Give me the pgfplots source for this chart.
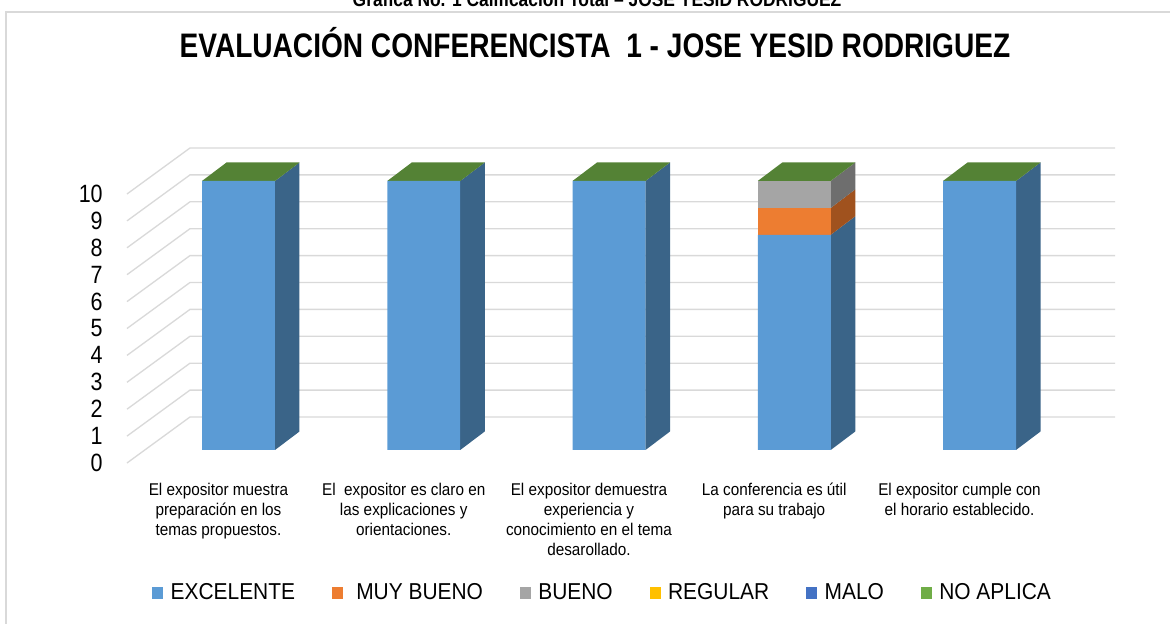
\documentclass[border=0pt]{standalone}
\usepackage{fontspec}
\setmainfont{Liberation Sans}
\newfontfamily\narrowfont[FakeStretch=0.87]{Liberation Sans}
\newfontfamily\titlefont[FakeStretch=0.826]{Liberation Sans}
\newfontfamily\tickfont[FakeStretch=0.86]{Liberation Sans}
\newfontfamily\catfont[FakeStretch=0.9]{Liberation Sans}
\newfontfamily\legfont[FakeStretch=0.91]{Liberation Sans}
\usepackage{pgfplots}
\pgfplotsset{compat=1.18}
\usepackage{pgfplotstable}
\definecolor{cExc}{HTML}{5B9BD5}
\definecolor{cExcS}{HTML}{3A6488}
\definecolor{cMB}{HTML}{ED7D31}
\definecolor{cMBS}{HTML}{A0521E}
\definecolor{cB}{HTML}{A5A5A5}
\definecolor{cBS}{HTML}{6E6E6E}
\definecolor{cReg}{HTML}{FFC000}
\definecolor{cMalo}{HTML}{4472C4}
\definecolor{cNA}{HTML}{70AD47}
\definecolor{cNAT}{HTML}{548235}
\definecolor{gridc}{HTML}{D9D9D9}

\pgfplotstableread{
x EXC MB B REG MALO NA
0 10 0 0 0 0 0
1 10 0 0 0 0 0
2 10 0 0 0 0 0
3 8 1 1 0 0 0
4 10 0 0 0 0 0
}\datatable

\pgfplotsset{base/.style={at={(0,0)}, anchor=south west, scale only axis,
  width=702pt, height=374.4pt,
  xmin=-1.2874, xmax=5.0283, ymin=-6.4684, ymax=16.7286,
  clip=false, axis line style={draw=none}, tick style={draw=none},
  major tick length=0pt}}

\begin{document}
\begin{tikzpicture}
% ---------- background: 3D walls, gridlines, side and top faces ----------
\begin{axis}[base, xtick=\empty, ytick=\empty]
\draw[gridc, line width=1pt] (rel axis cs:0.00513,-0.05) -- (rel axis cs:0.00513,0.9808) -- (rel axis cs:1.05,0.9808);
\addplot[gridc, line width=0.8pt] coordinates {(-0.6019,-0.4833) (-0.2618,1.2268) (4.7314,1.2268)};
\addplot[gridc, line width=0.8pt] coordinates {(-0.6019,0.5167) (-0.2618,2.2268) (4.7314,2.2268)};
\addplot[gridc, line width=0.8pt] coordinates {(-0.6019,1.5167) (-0.2618,3.2268) (4.7314,3.2268)};
\addplot[gridc, line width=0.8pt] coordinates {(-0.6019,2.5167) (-0.2618,4.2268) (4.7314,4.2268)};
\addplot[gridc, line width=0.8pt] coordinates {(-0.6019,3.5167) (-0.2618,5.2268) (4.7314,5.2268)};
\addplot[gridc, line width=0.8pt] coordinates {(-0.6019,4.5167) (-0.2618,6.2268) (4.7314,6.2268)};
\addplot[gridc, line width=0.8pt] coordinates {(-0.6019,5.5167) (-0.2618,7.2268) (4.7314,7.2268)};
\addplot[gridc, line width=0.8pt] coordinates {(-0.6019,6.5167) (-0.2618,8.2268) (4.7314,8.2268)};
\addplot[gridc, line width=0.8pt] coordinates {(-0.6019,7.5167) (-0.2618,9.2268) (4.7314,9.2268)};
\addplot[gridc, line width=0.8pt] coordinates {(-0.6019,8.5167) (-0.2618,10.2268) (4.7314,10.2268)};
\addplot[gridc, line width=0.8pt] coordinates {(-0.6019,9.5167) (-0.2618,11.2268) (4.7314,11.2268)};
% side faces
\addplot[fill=cExcS, draw=none] coordinates {(0.197,0) (0.3293,0.688) (0.3293,10.688) (0.197,10)};
\addplot[fill=cExcS, draw=none] coordinates {(1.197,0) (1.3293,0.688) (1.3293,10.688) (1.197,10)};
\addplot[fill=cExcS, draw=none] coordinates {(2.197,0) (2.3293,0.688) (2.3293,10.688) (2.197,10)};
\addplot[fill=cExcS, draw=none] coordinates {(3.197,0) (3.3293,0.688) (3.3293,8.688) (3.197,8)};
\addplot[fill=cMBS, draw=none] coordinates {(3.197,8) (3.3293,8.688) (3.3293,9.688) (3.197,9)};
\addplot[fill=cBS, draw=none] coordinates {(3.197,9) (3.3293,9.688) (3.3293,10.688) (3.197,10)};
\addplot[fill=cExcS, draw=none] coordinates {(4.197,0) (4.3293,0.688) (4.3293,10.688) (4.197,10)};
% top faces
\addplot[fill=cNAT, draw=none] coordinates {(-0.197,10) (-0.0647,10.688) (0.3293,10.688) (0.197,10)};
\addplot[fill=cNAT, draw=none] coordinates {(0.803,10) (0.9353,10.688) (1.3293,10.688) (1.197,10)};
\addplot[fill=cNAT, draw=none] coordinates {(1.803,10) (1.9353,10.688) (2.3293,10.688) (2.197,10)};
\addplot[fill=cNAT, draw=none] coordinates {(2.803,10) (2.9353,10.688) (3.3293,10.688) (3.197,10)};
\addplot[fill=cNAT, draw=none] coordinates {(3.803,10) (3.9353,10.688) (4.3293,10.688) (4.197,10)};
\node[anchor=base, inner sep=0pt, font=\narrowfont\bfseries\fontsize{12pt}{14pt}\selectfont]
  at (rel axis cs:0.5103,0.98878) {Gráfica No. 1 Calificación Total – JOSE YESID RODRIGUEZ};
\end{axis}
% ---------- foreground: stacked front faces ----------
\begin{axis}[base, ybar stacked, bar width=0.394,
  /pgf/number format/assume math mode=true,
  title={EVALUACIÓN CONFERENCISTA\ \ 1 - JOSE YESID RODRIGUEZ},
  title style={at={(rel axis cs:0.5085,0.8926)}, anchor=base, inner sep=0pt,
    font=\titlefont\bfseries\fontsize{20.4pt}{24pt}\selectfont},
  ytick={-0.4833,0.5167,1.5167,2.5167,3.5167,4.5167,5.5167,6.5167,7.5167,8.5167,9.5167},
  yticklabels={0,1,2,3,4,5,6,7,8,9,10},
  yticklabel style={anchor=east, inner sep=0pt, xshift=61.8pt,
    font=\tickfont\fontsize{15pt}{18pt}\selectfont},
  xtick={-0.108,0.892,1.892,2.892,3.892},
  xticklabels={{El expositor muestra\\preparación en los\\temas propuestos.},
    {El\ \ expositor es claro en\\las explicaciones y\\orientaciones.},
    {El expositor demuestra\\experiencia y\\conocimiento en el tema\\desarollado.},
    {La conferencia es útil\\para su trabajo},
    {El expositor cumple con\\el horario establecido.}},
  xticklabel style={align=center, anchor=north, inner sep=0pt, yshift=84.6pt,
    font=\catfont\fontsize{10.2pt}{12pt}\selectfont},
  legend columns=6,
  legend cell align=left,
  legend image code/.code={\fill[#1] (0pt,-3.6pt) rectangle (6.6pt,3.6pt);},
  legend style={at={(rel axis cs:0.1299,0.04968)}, anchor=west, draw=none, fill=none,
    inner sep=0pt, font=\legfont\fontsize{13.8pt}{16pt}\selectfont,
    /tikz/every even column/.append style={column sep=20.2pt},
    /tikz/every odd column/.append style={column sep=2.4pt}},
]
\addplot[fill=cExc, draw=none] table[x=x, y=EXC]{\datatable};
\addlegendentry{EXCELENTE}
\addplot[fill=cMB, draw=none] table[x=x, y=MB]{\datatable};
\addlegendentry{\ MUY BUENO}
\addplot[fill=cB, draw=none] table[x=x, y=B]{\datatable};
\addlegendentry{BUENO}
\addplot[fill=cReg, draw=none] table[x=x, y=REG]{\datatable};
\addlegendentry{REGULAR}
\addplot[fill=cMalo, draw=none] table[x=x, y=MALO]{\datatable};
\addlegendentry{MALO}
\addplot[fill=cNA, draw=none] table[x=x, y=NA]{\datatable};
\addlegendentry{NO APLICA}
\end{axis}
\pgfresetboundingbox
\path[use as bounding box] (0,0) rectangle (702pt,374.4pt);
\end{tikzpicture}
\end{document}
